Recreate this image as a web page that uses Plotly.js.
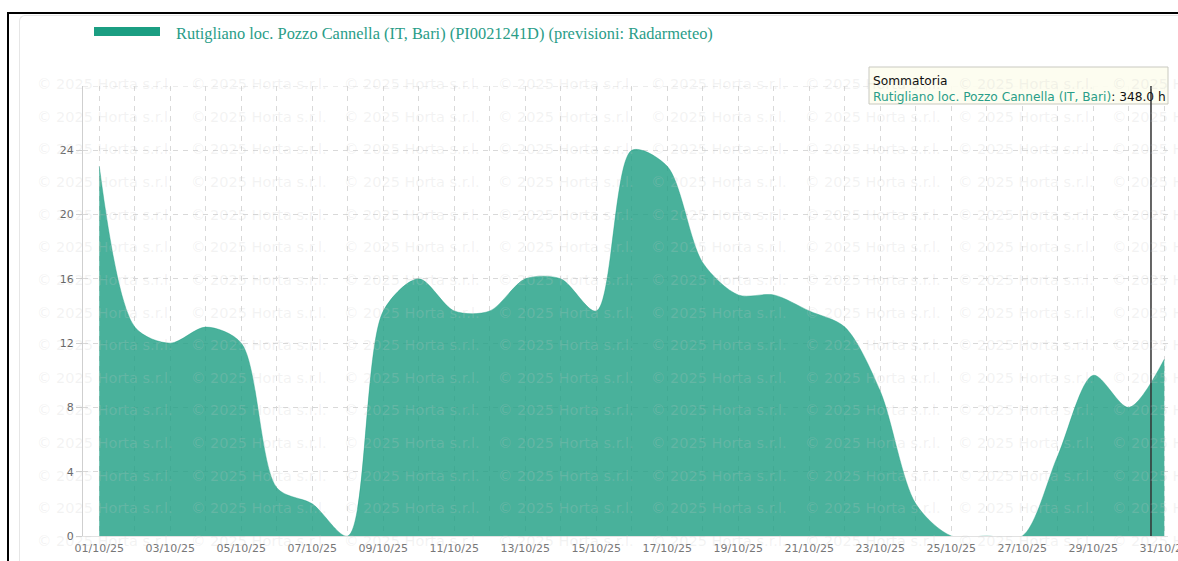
<!DOCTYPE html>
<html>
<head>
<meta charset="utf-8">
<script src="https://cdn.plot.ly/plotly-3.0.1.min.js"></script>
<style>
  html, body { margin:0; padding:0; width:1178px; height:561px; overflow:hidden; background:#fff; }
  #frame { position:absolute; left:7px; top:12px; width:1300px; height:700px; border-left:2px solid #000; border-top:2px solid #000; }
  #card { position:absolute; left:19px; top:15px; width:1300px; height:700px; border-left:1px solid #e6e6e6; border-top:1px solid #e6e6e6; border-top-left-radius:6px; }
  #chart { position:absolute; left:0; top:0; width:1178px; height:561px; }
</style>
</head>
<body>
<div id="frame"></div>
<div id="card"></div>
<div id="chart"></div>
<script>
// ---- data ----
const dates = [
  '2025-10-01','2025-10-02','2025-10-03','2025-10-04','2025-10-05','2025-10-06','2025-10-07','2025-10-08',
  '2025-10-09','2025-10-10','2025-10-11','2025-10-12','2025-10-13','2025-10-14','2025-10-15','2025-10-16',
  '2025-10-17','2025-10-18','2025-10-19','2025-10-20','2025-10-21','2025-10-22','2025-10-23','2025-10-24',
  '2025-10-25','2025-10-26','2025-10-27','2025-10-28','2025-10-29','2025-10-30','2025-10-31'
];
const hours = [23,13,12,13,12,3,2,0,14,16,14,14,16,16,14,24,23,17,15,15,14,13,9,2,0,0,0,5,10,8,11];
const yTicks = [0,4,8,12,16,20,24];
const seriesName = 'Rutigliano loc. Pozzo Cannella (IT, Bari)';
const legendLabel = 'Rutigliano loc. Pozzo Cannella (IT, Bari) (PI0021241D) (previsioni: Radarmeteo)';
const tooltipTitle = 'Sommatoria';
const watermarkText = '\u00a9 2025 Horta s.r.l.';
const hoverDate = '2025-10-30 15:00';

// ---- layout helpers (pixel -> paper) ----
const W = 1178, H = 561;
const M = {l:83, r:10, t:86, b:25};
const PW = W - M.l - M.r, PH = H - M.t - M.b;
const px = x => (x - M.l) / PW;
const py = y => (H - M.b - y) / PH;

const teal = '#1b9e82';
const total = hours.reduce((a,b)=>a+b,0);

const annotations = [];
// watermark grid
for (let r = 0; r < 15; r++) {
  for (let c = 0; c < 8; c++) {
    annotations.push({
      xref:'paper', yref:'paper', x: px(35 + 153.5*c), y: py(84 + 32.65*r),
      xanchor:'left', yanchor:'middle', showarrow:false, text: watermarkText,
      font:{family:'DejaVu Sans', size:14.5, color:'rgba(200,200,200,0.22)'}
    });
  }
}
// legend text
annotations.push({
  xref:'paper', yref:'paper', x: px(174), y: py(33), xanchor:'left', yanchor:'middle',
  showarrow:false, text: legendLabel,
  font:{family:'Liberation Serif', size:16.4, color:'#2a9d88'}
});
// tooltip text
annotations.push({
  xref:'paper', yref:'paper', x: px(871), y: py(72), xanchor:'left', yanchor:'top',
  showarrow:false, align:'left',
  text: tooltipTitle + '<br><span style="color:#2a9d88">' + seriesName + '</span>: ' + total.toFixed(1) + ' h',
  font:{family:'DejaVu Sans', size:12.2, color:'#111'}
});

const shapes = [
  // top gridline at 28
  {type:'line', xref:'paper', yref:'y', x0:0, x1:1, y0:28, y1:28, layer:'below',
   line:{color:'#d9d9d9', width:1, dash:'5px,5px'}},
  // legend swatch
  {type:'rect', xref:'paper', yref:'paper', x0:px(94), x1:px(160), y0:py(36), y1:py(27),
   fillcolor:teal, line:{width:0}},
  // tooltip box
  {type:'rect', xref:'paper', yref:'paper', x0:px(869), x1:px(1168), y0:py(104), y1:py(67),
   fillcolor:'rgba(253,253,238,0.9)', line:{color:'#c9c9c0', width:1}, layer:'above'},
  // hover spike
  {type:'line', xref:'x', yref:'paper', x0:hoverDate, x1:hoverDate, y0:0, y1:1,
   line:{color:'#333', width:1.5}, layer:'above'}
];

const trace = {
  type:'scatter', mode:'lines', x: dates, y: hours, name: seriesName,
  line:{shape:'spline', smoothing:0.85, color:'rgba(27,158,130,0.8)', width:0.5},
  fill:'tozeroy', fillcolor:'rgba(27,158,130,0.8)', showlegend:false, hoverinfo:'skip'
};

const layout = {
  width: W, height: H,
  margin: M,
  paper_bgcolor:'rgba(0,0,0,0)', plot_bgcolor:'rgba(0,0,0,0)',
  showlegend:false,
  xaxis:{
    type:'date', range:['2025-09-30 13:00','2025-10-31 02:30'],
    tick0:'2025-10-01', dtick: 2*86400000, tickformat:'%d/%m/%y',
    showgrid:true, gridcolor:'#d9d9d9', griddash:'5px,5px', gridwidth:1,
    minor:{tick0:'2025-10-01', dtick:86400000, showgrid:true, gridcolor:'#d9d9d9', griddash:'5px,5px', gridwidth:1},
    ticks:'', ticklabelstandoff:2, ticklabeloverflow:'allow',
    showline:true, linecolor:'#e2e2e2', linewidth:1, zeroline:false,
    tickfont:{family:'DejaVu Sans', size:11, color:'#777'}
  },
  yaxis:{
    range:[0,28], tickvals:yTicks, ticktext:yTicks.map(String),
    showgrid:true, gridcolor:'#d9d9d9', griddash:'5px,5px', gridwidth:1,
    ticks:'outside', ticklen:6, tickcolor:'#cfcfcf',
    showline:true, linecolor:'#cfcfcf', linewidth:1, zeroline:false,
    tickfont:{family:'DejaVu Sans', size:11, color:'#666'}
  },
  shapes: shapes,
  annotations: annotations
};

Plotly.newPlot('chart', [trace], layout, {displayModeBar:false, staticPlot:true});
</script>
</body>
</html>
